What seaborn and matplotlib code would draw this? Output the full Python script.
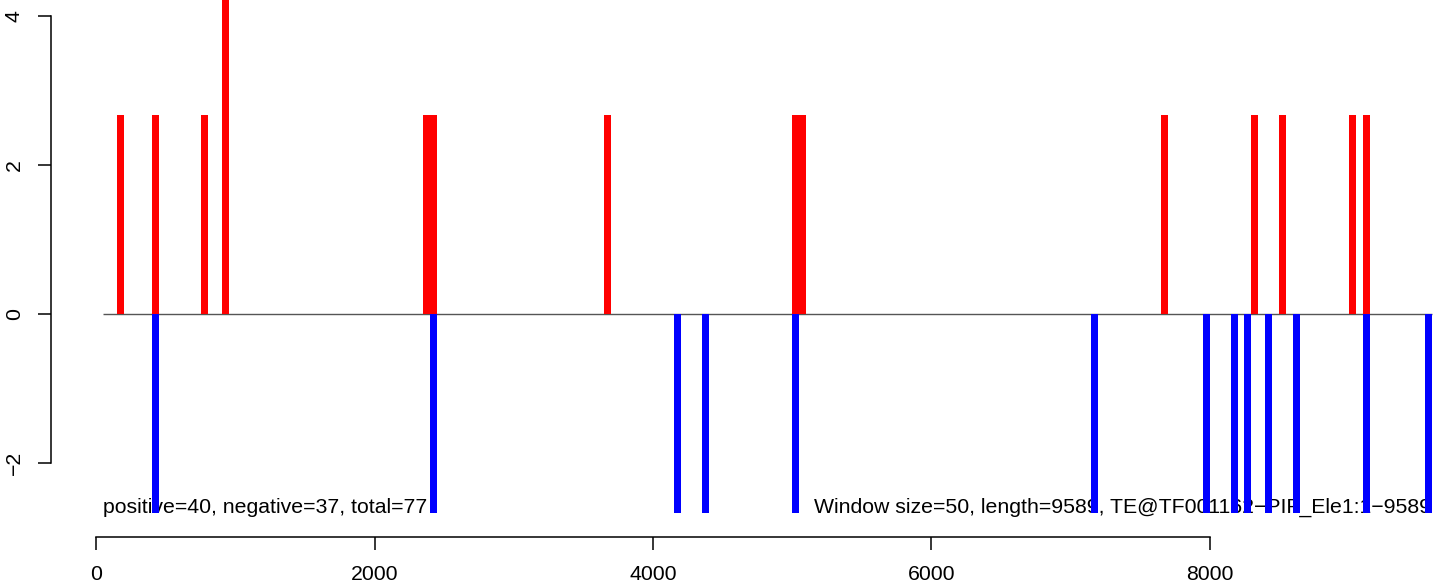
import matplotlib
matplotlib.use("Agg")
import matplotlib.pyplot as plt
import pandas as pd
import seaborn as sns

# window centres (window size 50) and scaled counts per strand
pos_windows = [175, 425, 775, 925, 2375, 2425, 3675, 5025, 5075, 7675, 8325, 8525, 9025, 9125]
pos_values = [2.67, 2.67, 2.67, 5.33, 2.67, 2.67, 2.67, 2.67, 2.67, 2.67, 2.67, 2.67, 2.67, 2.67]
neg_windows = [425, 2425, 4175, 4375, 5025, 7175, 7975, 8175, 8275, 8425, 8625, 9125, 9575]
neg_values = [-2.67, -2.67, -2.67, -2.67, -2.67, -2.67, -2.67, -2.67, -2.67, -2.67, -2.67, -2.67, -2.67]

n_pos = 40
n_neg = 37
window_size = 50
seq_length = 9589
te_name = "TE@TF001162\u2212PIF_Ele1:1\u22129589"

x_ticks = [0, 2000, 4000, 6000, 8000]
y_ticks = [-2, 0, 2, 4]

df = pd.concat(
    [
        pd.DataFrame({"pos": pos_windows, "value": pos_values, "strand": "+"}),
        pd.DataFrame({"pos": neg_windows, "value": neg_values, "strand": "-"}),
    ],
    ignore_index=True,
)

sns.set_style("white")
plt.rcParams["font.family"] = ["Liberation Sans", "DejaVu Sans"]
plt.rcParams["axes.unicode_minus"] = True
plt.rcParams["text.color"] = "black"

fs = 15.3

fig = plt.figure(figsize=(14.49, 5.83), dpi=100)
ax = fig.add_axes([50.7 / 1449, (583 - 537.3) / 583, 1 - 50.7 / 1449, 537.3 / 583])

sns.barplot(
    data=df,
    x="pos",
    y="value",
    hue="strand",
    palette={"+": "#ff0000", "-": "#0000ff"},
    native_scale=True,
    dodge=False,
    width=1,
    orient="x",
    saturation=1,
    linewidth=0,
    errorbar=None,
    legend=False,
    ax=ax,
)

ax.hlines(0, 50, 9600, color="#555555", lw=1, zorder=0.5)

ax.text(50, -2.67, f"positive={n_pos}, negative={n_neg}, total={n_pos + n_neg}",
        ha="left", va="baseline", fontsize=fs, color="black", zorder=0.5)
ax.text(seq_length, -2.67, f"Window size={window_size}, length={seq_length}, {te_name}",
        ha="right", va="baseline", fontsize=fs, color="black", zorder=0.5)

# R base-graphics style axes
ax.set_xlim((50.7 - 96.3) / 0.139175, (1449 - 96.3) / 0.139175)
ax.set_ylim((314 - 537.3) / 74.6, 314 / 74.6)
ax.set_xticks(x_ticks)
ax.set_yticks(y_ticks)
ax.set_xlabel("")
ax.set_ylabel("")
for side in ["top", "right"]:
    ax.spines[side].set_visible(False)
ax.spines["bottom"].set_bounds(0, 8000)
ax.spines["left"].set_bounds(-2, 4)
for side in ["bottom", "left"]:
    ax.spines[side].set_color("black")
    ax.spines[side].set_linewidth(1.1)
ax.tick_params(axis="both", direction="out", length=9.4, width=1.1, color="black",
               labelsize=fs, labelcolor="black")
ax.tick_params(axis="x", pad=10.5)
ax.tick_params(axis="y", pad=10)
ax.tick_params(left=True, bottom=True)
for lbl in ax.get_yticklabels():
    lbl.set_rotation(90)
    lbl.set_va("center")

fig.savefig("out.png", dpi=100, facecolor="white")
